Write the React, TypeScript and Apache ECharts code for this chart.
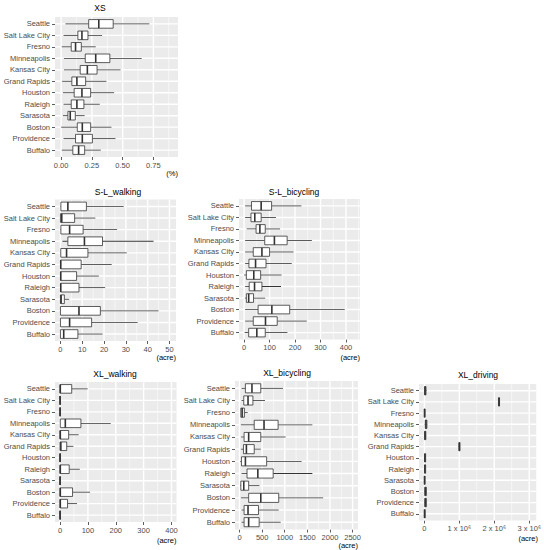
import React, { useEffect, useRef } from 'react';
import * as echarts from 'echarts';

const CITIES = [
  'Seattle', 'Salt Lake City', 'Fresno', 'Minneapolis', 'Kansas City', 'Grand Rapids',
  'Houston', 'Raleigh', 'Sarasota', 'Boston', 'Providence', 'Buffalo',
];

// each row: [min, Q1, median, Q3, max], in CITIES order
const XS_STATS = [
  [0.035, 0.224, 0.306, 0.423, 0.717],
  [0.019, 0.136, 0.169, 0.218, 0.333],
  [0.005, 0.082, 0.117, 0.164, 0.281],
  [0.022, 0.196, 0.281, 0.396, 0.655],
  [0.022, 0.155, 0.213, 0.292, 0.483],
  [0.008, 0.087, 0.128, 0.199, 0.368],
  [0.014, 0.106, 0.169, 0.24, 0.431],
  [0.019, 0.082, 0.128, 0.185, 0.314],
  [0.014, 0.055, 0.074, 0.115, 0.191],
  [0.0, 0.131, 0.172, 0.24, 0.409],
  [0.019, 0.117, 0.172, 0.254, 0.442],
  [0.005, 0.095, 0.142, 0.191, 0.322],
];
const SL_WALK_STATS = [
  [0, 0.2, 3.4, 11.9, 29],
  [0, 0, 0.6, 6.5, 16],
  [0, 0.2, 4.2, 10.4, 26],
  [0.9, 3.4, 11, 19.3, 42.7],
  [0, 0.15, 2.8, 12.6, 30.4],
  [0, 0, 0.15, 9.5, 23.5],
  [0, 0, 0.15, 7.4, 17.6],
  [0, 0, 0.15, 8.5, 20.5],
  [0, 0, 0.3, 1.8, 4],
  [0, 0, 8.5, 18.3, 45],
  [0, 0, 4.2, 14.3, 35.4],
  [0, 0, 1.5, 8, 19.3],
];
const SL_BIKE_STATS = [
  [4, 29, 67, 108, 225],
  [4, 27, 42, 67, 125],
  [10, 47, 62, 83, 141],
  [4, 81, 119, 169, 266],
  [4, 36, 70, 100, 194],
  [4, 19, 45, 86, 187],
  [0, 9, 38, 65, 147],
  [4, 20, 41, 70, 145],
  [3, 9, 18, 37, 83],
  [4, 55, 109, 179, 395],
  [4, 36, 84, 130, 246],
  [2, 18, 50, 83, 170],
];
const XL_WALK_STATS = [
  [0, 0, 1, 42, 99],
  [0, 0, 0, 0.5, 2],
  [0, 0, 0, 0.5, 2],
  [0, 1, 19, 75, 182],
  [0, 0, 1, 31, 67],
  [0, 0, 3, 24, 48],
  [0, 0, 0, 0.5, 2],
  [0, 0, 1, 33, 71],
  [0, 0, 0, 0.5, 2],
  [0, 0, 1, 45, 108],
  [0, 0, 1, 27, 61],
  [0, 0, 0, 0.5, 2],
];
const XL_BIKE_STATS = [
  [43, 130, 275, 470, 961],
  [43, 94, 188, 296, 563],
  [29, 29, 58, 108, 180],
  [29, 325, 542, 853, 1611],
  [29, 101, 202, 470, 1019],
  [29, 87, 152, 325, 470],
  [14, 43, 130, 600, 1373],
  [43, 166, 405, 744, 1611],
  [14, 29, 94, 202, 441],
  [29, 202, 470, 867, 1850],
  [43, 101, 188, 419, 867],
  [43, 101, 202, 434, 910],
];
const XL_DRIVE_STATS = [
  [0, 5000, 20000, 45000, 60000],
  [2110000, 2120000, 2135000, 2150000, 2160000],
  [0, 0, 5000, 15000, 20000],
  [10000, 25000, 45000, 70000, 80000],
  [0, 5000, 20000, 40000, 50000],
  [980000, 990000, 1000000, 1015000, 1020000],
  [0, 5000, 15000, 35000, 45000],
  [0, 5000, 15000, 35000, 45000],
  [0, 0, 5000, 15000, 20000],
  [0, 10000, 30000, 55000, 65000],
  [0, 10000, 30000, 55000, 65000],
  [0, 0, 5000, 20000, 25000],
];

const XS_TICKS = [0, 0.25, 0.5, 0.75];
const XS_MINOR = [0.125, 0.375, 0.625, 0.875];
const SL_WALK_TICKS = [0, 10, 20, 30, 40, 50];
const SL_WALK_MINOR = [5, 15, 25, 35, 45];
const SL_BIKE_TICKS = [0, 100, 200, 300, 400];
const SL_BIKE_MINOR = [50, 150, 250, 350, 450];
const XL_WALK_TICKS = [0, 100, 200, 300, 400];
const XL_WALK_MINOR = [50, 150, 250, 350];
const XL_BIKE_TICKS = [0, 500, 1000, 1500, 2000, 2500];
const XL_BIKE_MINOR = [250, 750, 1250, 1750, 2250];
const XL_DRIVE_TICKS = [0, 1000000, 2000000, 3000000];
const XL_DRIVE_MINOR = [500000, 1500000, 2500000];
const XL_DRIVE_LABELS = ['0', '1 x 10\u2076', '2 x 10\u2076', '3 x 10\u2076'];

const TITLES = ['XS', 'S-L_walking', 'S-L_bicycling', 'XL_walking', 'XL_bicycling', 'XL_driving'];
const UNITS = ['(%)', '(acre)', '(acre)', '(acre)', '(acre)', '(acre)'];

const FONT = '"Liberation Sans", Arial, sans-serif';

type Panel = {
  stats: number[][];
  ticks: number[];
  minor: number[];
  fmt: (v: number) => string;
  min: number;
  max: number;
  left: number;
  top: number;
  width: number;
  height: number;
  titleX: number;
  titleY: number;
  unitY: number;
};

const PANELS: Panel[] = [
  { stats: XS_STATS, ticks: XS_TICKS, minor: XS_MINOR, fmt: (v) => v.toFixed(2),
    min: -0.05, max: 0.95, left: 55, top: 17, width: 123, height: 140, titleX: 100, titleY: 8, unitY: 173 },
  { stats: SL_WALK_STATS, ticks: SL_WALK_TICKS, minor: SL_WALK_MINOR, fmt: (v) => String(v),
    min: -2.5, max: 53, left: 55, top: 199.5, width: 121, height: 141.5, titleX: 118, titleY: 192, unitY: 357 },
  { stats: SL_BIKE_STATS, ticks: SL_BIKE_TICKS, minor: SL_BIKE_MINOR, fmt: (v) => String(v),
    min: -20, max: 455, left: 239, top: 199, width: 121, height: 140.5, titleX: 294, titleY: 192, unitY: 357 },
  { stats: XL_WALK_STATS, ticks: XL_WALK_TICKS, minor: XL_WALK_MINOR, fmt: (v) => String(v),
    min: -18, max: 418, left: 55, top: 382, width: 121.5, height: 140, titleX: 115, titleY: 374, unitY: 540 },
  { stats: XL_BIKE_STATS, ticks: XL_BIKE_TICKS, minor: XL_BIKE_MINOR, fmt: (v) => String(v),
    min: -100, max: 2620, left: 235, top: 381, width: 123, height: 148.5, titleX: 287, titleY: 373, unitY: 545 },
  { stats: XL_DRIVE_STATS, ticks: XL_DRIVE_TICKS, minor: XL_DRIVE_MINOR,
    fmt: (v) => XL_DRIVE_LABELS[XL_DRIVE_TICKS.indexOf(v)] ?? '',
    min: -155000, max: 3200000, left: 419, top: 384, width: 119, height: 136.5, titleX: 478, titleY: 375, unitY: 538 },
];

const CAT_IDX = CITIES.map((_, i) => i);

function buildOption() {
  const grid: any[] = [];
  const xAxis: any[] = [];
  const yAxis: any[] = [];
  const series: any[] = [];
  const graphic: any[] = [];

  PANELS.forEach((p, gi) => {
    grid.push({
      left: p.left, top: p.top, width: p.width, height: p.height,
      show: true, backgroundColor: '#EBEBEB', borderWidth: 0, containLabel: false,
    });
    xAxis.push({
      type: 'value', gridIndex: gi, min: p.min, max: p.max, position: 'bottom',
      axisLine: { show: false, onZero: false },
      axisTick: { show: true, length: 3, customValues: p.ticks, lineStyle: { color: '#333333', width: 0.8 } },
      axisLabel: {
        show: true, customValues: p.ticks, formatter: (v: number) => p.fmt(v),
        color: '#4D4D4D', fontSize: 7.5, fontFamily: FONT, margin: 4,
        showMinLabel: true, showMaxLabel: true, hideOverlap: false,
      },
      splitLine: { show: false },
      minorSplitLine: { show: false },
    });
    yAxis.push({
      type: 'value', gridIndex: gi, min: -0.6, max: 11.6, inverse: true, position: 'left',
      axisLine: { show: false, onZero: false },
      axisTick: { show: true, length: 3, customValues: CAT_IDX, lineStyle: { color: '#333333', width: 0.8 } },
      axisLabel: {
        show: true, customValues: CAT_IDX, formatter: (v: number) => CITIES[Math.round(v)] ?? '',
        color: '#4D4D4D', fontSize: 7.5, fontFamily: FONT, margin: 5,
        showMinLabel: true, showMaxLabel: true, hideOverlap: false,
      },
      splitLine: { show: false },
    });

    const ticks = p.ticks;
    const minor = p.minor;
    series.push({
      type: 'custom',
      xAxisIndex: gi,
      yAxisIndex: gi,
      clip: false,
      encode: { x: [1, 2, 3, 4, 5], y: 0 },
      data: p.stats.map((s, i) => [i, ...s]),
      renderItem: (params: any, api: any) => {
        const cs = params.coordSys;
        const y = api.value(0);
        const children: any[] = [];
        if (params.dataIndex === 0) {
          minor.forEach((v) => {
            const c = api.coord([v, 0]);
            children.push({ type: 'rect', shape: { x: c[0] - 0.35, y: cs.y, width: 0.7, height: cs.height },
              style: { fill: '#FAFAFA' }, z2: 1 });
          });
          ticks.forEach((v) => {
            const c = api.coord([v, 0]);
            children.push({ type: 'rect', shape: { x: c[0] - 0.7, y: cs.y, width: 1.4, height: cs.height },
              style: { fill: '#FFFFFF' }, z2: 2 });
          });
        }
        const pMin = api.coord([api.value(1), y]);
        const pQ1 = api.coord([api.value(2), y]);
        const pMed = api.coord([api.value(3), y]);
        const pQ3 = api.coord([api.value(4), y]);
        const pMax = api.coord([api.value(5), y]);
        const h = Math.abs(api.size([0, 0.75])[1]);
        children.push({ type: 'rect', shape: { x: cs.x, y: pMed[1] - 0.7, width: cs.width, height: 1.4 },
          style: { fill: '#FFFFFF' }, z2: 3 });
        const ink = '#333333';
        children.push({ type: 'rect', shape: { x: pMin[0], y: pMin[1] - 0.4, width: Math.max(pQ1[0] - pMin[0], 0), height: 0.8 },
          style: { fill: ink }, z2: 10 });
        children.push({ type: 'rect', shape: { x: pQ3[0], y: pQ3[1] - 0.4, width: Math.max(pMax[0] - pQ3[0], 0), height: 0.8 },
          style: { fill: ink }, z2: 10 });
        children.push({ type: 'rect', shape: { x: pQ1[0], y: pQ1[1] - h / 2, width: Math.max(pQ3[0] - pQ1[0], 0.3), height: h },
          style: { fill: '#FFFFFF', stroke: ink, lineWidth: 0.8 }, z2: 11 });
        children.push({ type: 'rect', shape: { x: pMed[0] - 0.8, y: pMed[1] - h / 2, width: 1.6, height: h },
          style: { fill: ink }, z2: 12 });
        return { type: 'group', children };
      },
    });
    graphic.push({
      type: 'text', x: p.titleX, y: p.titleY, silent: true,
      style: { text: TITLES[gi], fill: '#000000', fontSize: 8.5, fontFamily: FONT, align: 'center', verticalAlign: 'middle' },
    });
    graphic.push({
      type: 'text', x: p.left + p.width, y: p.unitY, silent: true,
      style: { text: UNITS[gi], fill: '#000000', fontSize: 7.5, fontFamily: FONT, align: 'right', verticalAlign: 'middle' },
    });
  });

  return {
    animation: false,
    backgroundColor: '#FFFFFF',
    grid, xAxis, yAxis, series, graphic,
  };
}

export default function App() {
  const ref = useRef<HTMLDivElement>(null);
  useEffect(() => {
    document.body.style.margin = '0';
    if (!ref.current) return;
    const chart = echarts.init(ref.current, undefined, { renderer: 'svg' });
    chart.setOption(buildOption() as any);
    return () => chart.dispose();
  }, []);
  return <div ref={ref} style={{ width: 544, height: 550 }} />;
}
